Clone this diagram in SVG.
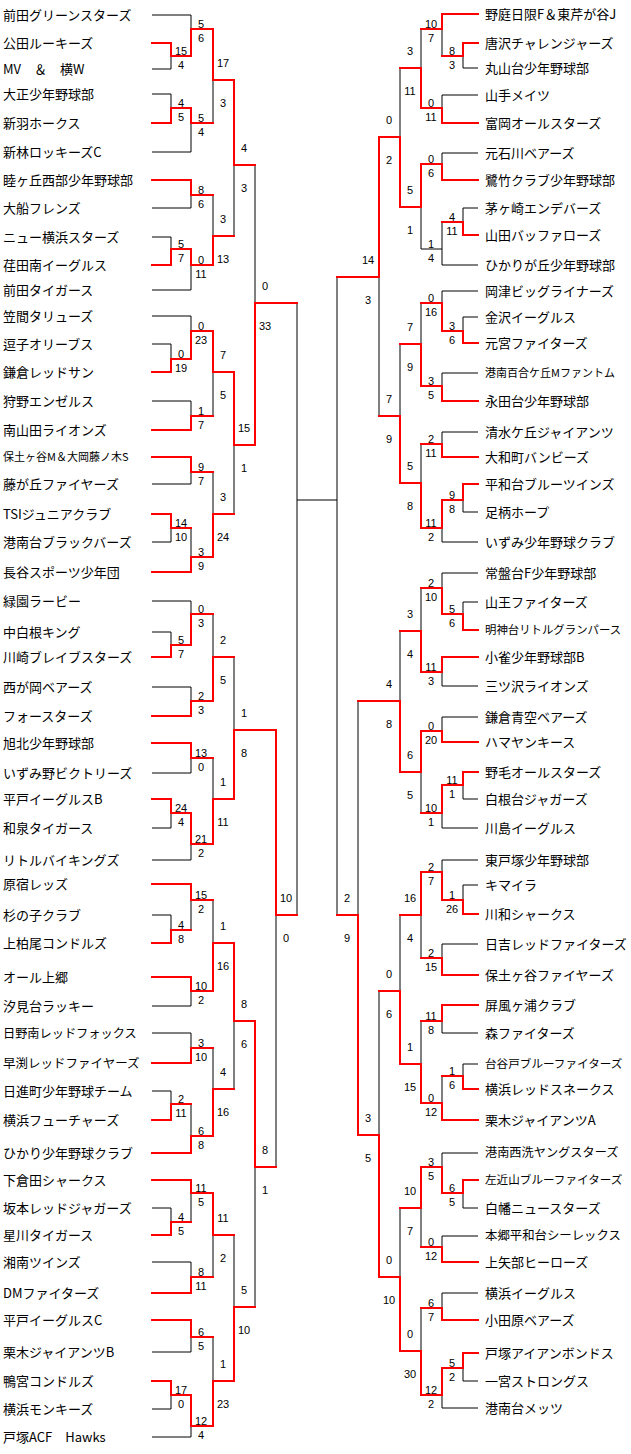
<svg xmlns="http://www.w3.org/2000/svg" width="631" height="1454" viewBox="0 0 631 1454">
<style>
.t{font-family:"Noto Sans CJK JP","Liberation Sans",sans-serif;font-size:13px;fill:#000}
.s text{font-family:"Liberation Sans",sans-serif;font-size:11px;text-anchor:middle;fill:#000}
.k{fill:none;stroke:#000;stroke-width:1}
.r{fill:none;stroke:#f00;stroke-width:2;stroke-linecap:square}
</style>
<rect width="631" height="1454" fill="#fff"/>
<g id="connectors">
<path class="k" d="M152 69H171M171 69V56M152 15H191M191 15V29M152 94H171M171 94V108M152 152H191M191 152V123M213 123V80M152 208H191M191 208V195M152 237H171M171 237V249M152 290H191M191 290V265M213 195V236M234 236V165M152 344H171M171 344V359M152 316H191M191 316V331M152 401H191M191 401V416M213 416V372M152 484H191M191 484V472M152 542H171M171 542V528M191 528V557M213 472V514M234 514V445M255 165V303M152 632H171M171 632V645M152 601H191M191 601V614M152 687H191M191 687V701M213 614V657M152 773H191M191 773V758M152 828H171M171 828V813M152 860H191M191 860V844M213 758V799M234 657V730M152 915H171M171 915V930M191 930V900M152 1006H191M191 1006V991M213 900V943M152 1033H191M191 1033V1048M152 1091H171M171 1091V1104M191 1104V1136M213 1048V1089M234 1089V1021M152 1208H171M171 1208V1222M191 1222V1193M152 1262H191M191 1262V1277M213 1277V1235M152 1352H191M191 1352V1337M152 1409H171M171 1409V1395M152 1437H191M191 1437V1426M213 1337V1381M234 1235V1307M255 1307V1167M276 1167V915M297 303V915M297 500H337"/>
<path class="k" d="M478 68H463M463 68V56M442 56V29M478 95H442M442 95V108M421 29V68M478 153H442M442 153V164M478 208H463M463 208V222M442 222V249M478 265H442M442 265V249M442 249H421M421 249V207M400 68V137M478 317H463M463 317V331M478 291H442M442 291V303M478 373H442M442 373V386M421 303V344M478 432H442M442 432V444M478 512H463M463 512V500M478 542H442M442 542V528M421 444V483M400 344V416M379 416V277M478 602H463M463 602V614M478 573H442M442 573V588M478 686H442M442 686V672M421 588V631M478 717H442M442 717V731M478 799H463M463 799V785M478 828H442M442 828V813M421 813V772M400 631V701M478 885H463M463 885V900M478 860H442M442 860V872M478 944H442M442 944V958M421 958V915M478 1033H442M442 1033V1021M478 1064H463M463 1064V1076M442 1076V1103M421 1021V1064M400 915V991M478 1208H463M463 1208V1193M478 1153H442M442 1153V1167M478 1236H442M442 1236V1247M421 1247V1208M478 1293H442M442 1293V1308M478 1381H463M463 1381V1368M478 1408H442M442 1408V1395M421 1308V1351M400 1208V1277M379 991V1135M358 701V915M337 277V915"/>
<path class="r" d="M152 43H171M171 43V56M171 56H191M191 56V29M152 123H171M171 123V108M171 108H191M191 108V123M191 29H213M213 29V80M191 123H213M152 180H191M191 180V195M152 265H171M171 265V249M171 249H191M191 249V265M191 195H213M191 265H213M213 265V236M213 80H234M234 80V165M213 236H234M152 372H171M171 372V359M171 359H191M191 359V331M152 430H191M191 430V416M191 331H213M213 331V372M191 416H213M152 457H191M191 457V472M152 514H171M171 514V528M171 528H191M152 572H191M191 572V557M191 472H213M191 557H213M213 557V514M213 372H234M234 372V445M213 514H234M234 165H255M234 445H255M255 445V303M152 657H171M171 657V645M171 645H191M191 645V614M152 716H191M191 716V701M191 614H213M191 701H213M213 701V657M152 743H191M191 743V758M152 799H171M171 799V813M171 813H191M191 813V844M191 758H213M191 844H213M213 844V799M213 657H234M213 799H234M234 799V730M152 943H171M171 943V930M152 884H191M191 884V900M171 930H191M152 977H191M191 977V991M191 900H213M191 991H213M213 991V943M152 1063H191M191 1063V1048M152 1120H171M171 1120V1104M171 1104H191M152 1153H191M191 1153V1136M191 1048H213M191 1136H213M213 1136V1089M213 943H234M234 943V1021M213 1089H234M152 1235H171M171 1235V1222M152 1180H191M191 1180V1193M171 1222H191M152 1293H191M191 1293V1277M191 1193H213M213 1193V1235M191 1277H213M152 1320H191M191 1320V1337M152 1381H171M171 1381V1395M171 1395H191M191 1395V1426M191 1337H213M191 1426H213M213 1426V1381M213 1235H234M213 1381H234M234 1381V1307M234 1021H255M255 1021V1167M234 1307H255M234 730H276M276 730V915M255 1167H276M255 303H297M276 915H297"/>
<path class="r" d="M478 43H463M463 43V56M478 14H442M442 14V29M463 56H442M478 123H442M442 123V108M442 29H421M442 108H421M421 108V68M478 180H442M442 180V164M478 235H463M463 235V222M463 222H442M442 164H421M421 164V207M421 68H400M421 207H400M400 207V137M478 343H463M463 343V331M463 331H442M442 331V303M478 401H442M442 401V386M442 303H421M442 386H421M421 386V344M478 457H442M442 457V444M478 484H463M463 484V500M463 500H442M442 500V528M442 444H421M442 528H421M421 528V483M421 344H400M421 483H400M400 483V416M400 137H379M379 137V277M400 416H379M478 630H463M463 630V614M463 614H442M442 614V588M478 657H442M442 657V672M442 588H421M442 672H421M421 672V631M478 742H442M442 742V731M478 772H463M463 772V785M463 785H442M442 785V813M442 731H421M421 731V772M442 813H421M421 631H400M421 772H400M400 772V701M478 914H463M463 914V900M463 900H442M442 900V872M478 975H442M442 975V958M442 872H421M421 872V915M442 958H421M478 1005H442M442 1005V1021M478 1089H463M463 1089V1076M463 1076H442M478 1120H442M442 1120V1103M442 1021H421M442 1103H421M421 1103V1064M421 915H400M421 1064H400M400 1064V991M478 1180H463M463 1180V1193M463 1193H442M442 1193V1167M478 1262H442M442 1262V1247M442 1167H421M421 1167V1208M442 1247H421M478 1320H442M442 1320V1308M478 1353H463M463 1353V1368M463 1368H442M442 1368V1395M442 1308H421M442 1395H421M421 1395V1351M421 1208H400M421 1351H400M400 1351V1277M400 991H379M400 1277H379M379 1277V1135M400 701H358M379 1135H358M358 1135V915M379 277H337M358 915H337"/>
</g>
<g id="teams-left" class="t">
<g id="L01"><text class="t" x="3" y="20">前田グリーンスターズ</text></g>
<g id="L02"><text class="t" x="3" y="48">公田ルーキーズ</text></g>
<g id="L03"><text class="t" x="3" y="74">MV　＆　横W</text></g>
<g id="L04"><text class="t" x="3" y="99">大正少年野球部</text></g>
<g id="L05"><text class="t" x="3" y="128">新羽ホークス</text></g>
<g id="L06"><text class="t" x="3" y="157">新林ロッキーズC</text></g>
<g id="L07"><text class="t" x="3" y="185">睦ヶ丘西部少年野球部</text></g>
<g id="L08"><text class="t" x="3" y="213">大船フレンズ</text></g>
<g id="L09"><text class="t" x="3" y="242">ニュー横浜スターズ</text></g>
<g id="L10"><text class="t" x="3" y="270">荏田南イーグルス</text></g>
<g id="L11"><text class="t" x="3" y="295">前田タイガース</text></g>
<g id="L12"><text class="t" x="3" y="321">笠間タリューズ</text></g>
<g id="L13"><text class="t" x="3" y="349">逗子オリーブス</text></g>
<g id="L14"><text class="t" x="3" y="377">鎌倉レッドサン</text></g>
<g id="L15"><text class="t" x="3" y="406">狩野エンゼルス</text></g>
<g id="L16"><text class="t" x="3" y="435">南山田ライオンズ</text></g>
<g id="L17"><text class="t" x="3" y="461" style="font-size:11px">保土ヶ谷M＆大岡藤ノ木S</text></g>
<g id="L18"><text class="t" x="3" y="489">藤が丘ファイヤーズ</text></g>
<g id="L19"><text class="t" x="3" y="519">TSIジュニアクラブ</text></g>
<g id="L20"><text class="t" x="3" y="547">港南台ブラックバーズ</text></g>
<g id="L21"><text class="t" x="3" y="577">長谷スポーツ少年団</text></g>
<g id="L22"><text class="t" x="3" y="606">緑園ラービー</text></g>
<g id="L23"><text class="t" x="3" y="637">中白根キング</text></g>
<g id="L24"><text class="t" x="3" y="662">川崎ブレイブスターズ</text></g>
<g id="L25"><text class="t" x="3" y="692">西が岡ベアーズ</text></g>
<g id="L26"><text class="t" x="3" y="721">フォースターズ</text></g>
<g id="L27"><text class="t" x="3" y="748">旭北少年野球部</text></g>
<g id="L28"><text class="t" x="3" y="778">いずみ野ビクトリーズ</text></g>
<g id="L29"><text class="t" x="3" y="804">平戸イーグルスB</text></g>
<g id="L30"><text class="t" x="3" y="833">和泉タイガース</text></g>
<g id="L31"><text class="t" x="3" y="865">リトルバイキングズ</text></g>
<g id="L32"><text class="t" x="3" y="889">原宿レッズ</text></g>
<g id="L33"><text class="t" x="3" y="920">杉の子クラブ</text></g>
<g id="L34"><text class="t" x="3" y="948">上柏尾コンドルズ</text></g>
<g id="L35"><text class="t" x="3" y="982">オール上郷</text></g>
<g id="L36"><text class="t" x="3" y="1011">汐見台ラッキー</text></g>
<g id="L37"><text class="t" x="3" y="1038" style="font-size:12.2px">日野南レッドフォックス</text></g>
<g id="L38"><text class="t" x="3" y="1068" style="font-size:12.5px">早渕レッドファイヤーズ</text></g>
<g id="L39"><text class="t" x="3" y="1096">日進町少年野球チーム</text></g>
<g id="L40"><text class="t" x="3" y="1125">横浜フューチャーズ</text></g>
<g id="L41"><text class="t" x="3" y="1158">ひかり少年野球クラブ</text></g>
<g id="L42"><text class="t" x="3" y="1185">下倉田シャークス</text></g>
<g id="L43"><text class="t" x="3" y="1213">坂本レッドジャガーズ</text></g>
<g id="L44"><text class="t" x="3" y="1240">星川タイガース</text></g>
<g id="L45"><text class="t" x="3" y="1267">湘南ツインズ</text></g>
<g id="L46"><text class="t" x="3" y="1298">DMファイターズ</text></g>
<g id="L47"><text class="t" x="3" y="1325">平戸イーグルスC</text></g>
<g id="L48"><text class="t" x="3" y="1357">栗木ジャイアンツB</text></g>
<g id="L49"><text class="t" x="3" y="1386">鴨宮コンドルズ</text></g>
<g id="L50"><text class="t" x="3" y="1414">横浜モンキーズ</text></g>
<g id="L51"><text class="t" x="3" y="1442">戸塚ACF　Hawks</text></g>
</g>
<g id="teams-right" class="t">
<g id="R01"><text class="t" x="485" y="19">野庭日限F＆東芹が谷J</text></g>
<g id="R02"><text class="t" x="485" y="48">唐沢チャレンジャーズ</text></g>
<g id="R03"><text class="t" x="485" y="73">丸山台少年野球部</text></g>
<g id="R04"><text class="t" x="485" y="100">山手メイツ</text></g>
<g id="R05"><text class="t" x="485" y="128">富岡オールスターズ</text></g>
<g id="R06"><text class="t" x="485" y="158">元石川ベアーズ</text></g>
<g id="R07"><text class="t" x="485" y="185">鷺竹クラブ少年野球部</text></g>
<g id="R08"><text class="t" x="485" y="213">茅ヶ崎エンデバーズ</text></g>
<g id="R09"><text class="t" x="485" y="240">山田バッファローズ</text></g>
<g id="R10"><text class="t" x="485" y="270">ひかりが丘少年野球部</text></g>
<g id="R11"><text class="t" x="485" y="296">岡津ビッグライナーズ</text></g>
<g id="R12"><text class="t" x="485" y="322">金沢イーグルス</text></g>
<g id="R13"><text class="t" x="485" y="348">元宮ファイターズ</text></g>
<g id="R14"><text class="t" x="485" y="377" style="font-size:11px">港南百合ケ丘Mファントム</text></g>
<g id="R15"><text class="t" x="485" y="406">永田台少年野球部</text></g>
<g id="R16"><text class="t" x="485" y="437">清水ケ丘ジャイアンツ</text></g>
<g id="R17"><text class="t" x="485" y="462">大和町バンビーズ</text></g>
<g id="R18"><text class="t" x="485" y="489">平和台ブルーツインズ</text></g>
<g id="R19"><text class="t" x="485" y="517">足柄ホープ</text></g>
<g id="R20"><text class="t" x="485" y="547">いずみ少年野球クラブ</text></g>
<g id="R21"><text class="t" x="485" y="578">常盤台F少年野球部</text></g>
<g id="R22"><text class="t" x="485" y="607">山王ファイターズ</text></g>
<g id="R23"><text class="t" x="485" y="634" style="font-size:11.4px">明神台リトルグランパース</text></g>
<g id="R24"><text class="t" x="485" y="662">小雀少年野球部B</text></g>
<g id="R25"><text class="t" x="485" y="691">三ツ沢ライオンズ</text></g>
<g id="R26"><text class="t" x="485" y="722">鎌倉青空ベアーズ</text></g>
<g id="R27"><text class="t" x="485" y="747">ハマヤンキース</text></g>
<g id="R28"><text class="t" x="485" y="777">野毛オールスターズ</text></g>
<g id="R29"><text class="t" x="485" y="804">白根台ジャガーズ</text></g>
<g id="R30"><text class="t" x="485" y="833">川島イーグルス</text></g>
<g id="R31"><text class="t" x="485" y="865">東戸塚少年野球部</text></g>
<g id="R32"><text class="t" x="485" y="890">キマイラ</text></g>
<g id="R33"><text class="t" x="485" y="919">川和シャークス</text></g>
<g id="R34"><text class="t" x="485" y="949">日吉レッドファイターズ</text></g>
<g id="R35"><text class="t" x="485" y="980">保土ヶ谷ファイヤーズ</text></g>
<g id="R36"><text class="t" x="485" y="1010">屏風ヶ浦クラブ</text></g>
<g id="R37"><text class="t" x="485" y="1038">森ファイターズ</text></g>
<g id="R38"><text class="t" x="485" y="1068" style="font-size:11.6px">台谷戸ブルーファイターズ</text></g>
<g id="R39"><text class="t" x="485" y="1094">横浜レッドスネークス</text></g>
<g id="R40"><text class="t" x="485" y="1125">栗木ジャイアンツA</text></g>
<g id="R41"><text class="t" x="485" y="1157" style="font-size:12.2px">港南西洗ヤングスターズ</text></g>
<g id="R42"><text class="t" x="485" y="1184" style="font-size:11.6px">左近山ブルーファイターズ</text></g>
<g id="R43"><text class="t" x="485" y="1213">白幡ニュースターズ</text></g>
<g id="R44"><text class="t" x="485" y="1240" style="font-size:12.4px">本郷平和台シーレックス</text></g>
<g id="R45"><text class="t" x="485" y="1267">上矢部ヒーローズ</text></g>
<g id="R46"><text class="t" x="485" y="1298">横浜イーグルス</text></g>
<g id="R47"><text class="t" x="485" y="1325">小田原ベアーズ</text></g>
<g id="R48"><text class="t" x="485" y="1358">戸塚アイアンボンドス</text></g>
<g id="R49"><text class="t" x="485" y="1386">一宮ストロングス</text></g>
<g id="R50"><text class="t" x="485" y="1413">港南台メッツ</text></g>
</g>
<g id="scores" class="s">
<g id="m1"><text x="181" y="55">15</text><text x="181" y="69">4</text></g>
<g id="m2"><text x="201" y="28">5</text><text x="201" y="42">6</text></g>
<g id="m3"><text x="181" y="107">4</text><text x="181" y="121">5</text></g>
<g id="m4"><text x="201" y="122">5</text><text x="201" y="136">4</text></g>
<g id="m5"><text x="223" y="67">17</text><text x="223" y="107">3</text></g>
<g id="m6"><text x="201" y="194">8</text><text x="201" y="208">6</text></g>
<g id="m7"><text x="181" y="248">5</text><text x="181" y="262">7</text></g>
<g id="m8"><text x="201" y="264">0</text><text x="201" y="278">11</text></g>
<g id="m9"><text x="223" y="223">3</text><text x="223" y="263">13</text></g>
<g id="m10"><text x="244" y="152">4</text><text x="244" y="192">3</text></g>
<g id="n1"><text x="181" y="358">0</text><text x="181" y="372">19</text></g>
<g id="n2"><text x="201" y="330">0</text><text x="201" y="344">23</text></g>
<g id="n3"><text x="201" y="415">1</text><text x="201" y="429">7</text></g>
<g id="n4"><text x="223" y="359">7</text><text x="223" y="399">5</text></g>
<g id="n5"><text x="201" y="471">9</text><text x="201" y="485">7</text></g>
<g id="n6"><text x="181" y="527">14</text><text x="181" y="541">10</text></g>
<g id="n7"><text x="201" y="556">3</text><text x="201" y="570">9</text></g>
<g id="n8"><text x="223" y="501">3</text><text x="223" y="541">24</text></g>
<g id="n9"><text x="244" y="432">15</text><text x="244" y="472">1</text></g>
<g id="m11"><text x="265" y="290">0</text><text x="265" y="330">33</text></g>
<g id="p1"><text x="181" y="644">5</text><text x="181" y="658">7</text></g>
<g id="p2"><text x="201" y="613">0</text><text x="201" y="627">3</text></g>
<g id="p3"><text x="201" y="700">2</text><text x="201" y="714">3</text></g>
<g id="p4"><text x="223" y="644">2</text><text x="223" y="684">5</text></g>
<g id="p5"><text x="201" y="757">13</text><text x="201" y="771">0</text></g>
<g id="p6"><text x="181" y="812">24</text><text x="181" y="826">4</text></g>
<g id="p7"><text x="201" y="843">21</text><text x="201" y="857">2</text></g>
<g id="p8"><text x="223" y="786">1</text><text x="223" y="826">11</text></g>
<g id="p9"><text x="244" y="717">1</text><text x="244" y="757">8</text></g>
<g id="q1"><text x="181" y="929">4</text><text x="181" y="943">8</text></g>
<g id="q2"><text x="201" y="899">15</text><text x="201" y="913">2</text></g>
<g id="q3"><text x="201" y="990">10</text><text x="201" y="1004">2</text></g>
<g id="q4"><text x="223" y="930">1</text><text x="223" y="970">16</text></g>
<g id="q5"><text x="201" y="1047">3</text><text x="201" y="1061">10</text></g>
<g id="q6"><text x="181" y="1103">2</text><text x="181" y="1117">11</text></g>
<g id="q7"><text x="201" y="1135">6</text><text x="201" y="1149">8</text></g>
<g id="q8"><text x="223" y="1076">4</text><text x="223" y="1116">16</text></g>
<g id="q9"><text x="244" y="1008">8</text><text x="244" y="1048">6</text></g>
<g id="s1"><text x="181" y="1221">4</text><text x="181" y="1235">5</text></g>
<g id="s2"><text x="201" y="1192">11</text><text x="201" y="1206">5</text></g>
<g id="s3"><text x="201" y="1276">8</text><text x="201" y="1290">11</text></g>
<g id="s4"><text x="223" y="1222">11</text><text x="223" y="1262">2</text></g>
<g id="s5"><text x="201" y="1336">6</text><text x="201" y="1350">5</text></g>
<g id="s6"><text x="181" y="1394">17</text><text x="181" y="1408">0</text></g>
<g id="s7"><text x="201" y="1425">12</text><text x="201" y="1439">4</text></g>
<g id="s8"><text x="223" y="1368">1</text><text x="223" y="1408">23</text></g>
<g id="s9"><text x="244" y="1294">5</text><text x="244" y="1334">10</text></g>
<g id="q10"><text x="265" y="1154">8</text><text x="265" y="1194">1</text></g>
<g id="q11"><text x="286" y="902">10</text><text x="286" y="942">0</text></g>
<g id="r1"><text x="452" y="55">8</text><text x="452" y="69">3</text></g>
<g id="r2"><text x="431" y="28">10</text><text x="431" y="42">7</text></g>
<g id="r3"><text x="431" y="107">0</text><text x="431" y="121">11</text></g>
<g id="r4"><text x="410" y="55">3</text><text x="410" y="95">11</text></g>
<g id="r5"><text x="431" y="163">0</text><text x="431" y="177">6</text></g>
<g id="r6"><text x="452" y="221">4</text><text x="452" y="235">11</text></g>
<g id="r7"><text x="431" y="248">1</text><text x="431" y="262">4</text></g>
<g id="r8"><text x="410" y="194">5</text><text x="410" y="234">1</text></g>
<g id="r9"><text x="389" y="124">0</text><text x="389" y="164">2</text></g>
<g id="r10"><text x="452" y="330">3</text><text x="452" y="344">6</text></g>
<g id="r11"><text x="431" y="302">0</text><text x="431" y="316">16</text></g>
<g id="r12"><text x="431" y="385">3</text><text x="431" y="399">5</text></g>
<g id="r13"><text x="410" y="331">7</text><text x="410" y="371">9</text></g>
<g id="r14"><text x="431" y="443">2</text><text x="431" y="457">11</text></g>
<g id="r15"><text x="452" y="499">9</text><text x="452" y="513">8</text></g>
<g id="r16"><text x="431" y="527">11</text><text x="431" y="541">2</text></g>
<g id="r17"><text x="410" y="470">5</text><text x="410" y="510">8</text></g>
<g id="r18"><text x="389" y="403">7</text><text x="389" y="443">9</text></g>
<g id="rt"><text x="368" y="264">14</text><text x="368" y="304">3</text></g>
<g id="t1"><text x="452" y="613">5</text><text x="452" y="627">6</text></g>
<g id="t2"><text x="431" y="587">2</text><text x="431" y="601">10</text></g>
<g id="t3"><text x="431" y="671">11</text><text x="431" y="685">3</text></g>
<g id="t4"><text x="410" y="618">3</text><text x="410" y="658">4</text></g>
<g id="t5"><text x="431" y="730">0</text><text x="431" y="744">20</text></g>
<g id="t6"><text x="452" y="784">11</text><text x="452" y="798">1</text></g>
<g id="t7"><text x="431" y="812">10</text><text x="431" y="826">1</text></g>
<g id="t8"><text x="410" y="759">6</text><text x="410" y="799">5</text></g>
<g id="t9"><text x="389" y="688">4</text><text x="389" y="728">8</text></g>
<g id="u1"><text x="452" y="899">1</text><text x="452" y="913">26</text></g>
<g id="u2"><text x="431" y="871">2</text><text x="431" y="885">7</text></g>
<g id="u3"><text x="431" y="957">2</text><text x="431" y="971">15</text></g>
<g id="u4"><text x="410" y="902">16</text><text x="410" y="942">4</text></g>
<g id="u5"><text x="431" y="1020">11</text><text x="431" y="1034">8</text></g>
<g id="u6"><text x="452" y="1075">1</text><text x="452" y="1089">6</text></g>
<g id="u7"><text x="431" y="1102">0</text><text x="431" y="1116">12</text></g>
<g id="u8"><text x="410" y="1051">1</text><text x="410" y="1091">15</text></g>
<g id="u9"><text x="389" y="978">0</text><text x="389" y="1018">6</text></g>
<g id="w1"><text x="452" y="1192">6</text><text x="452" y="1206">5</text></g>
<g id="w2"><text x="431" y="1166">3</text><text x="431" y="1180">5</text></g>
<g id="w3"><text x="431" y="1246">0</text><text x="431" y="1260">12</text></g>
<g id="w4"><text x="410" y="1195">10</text><text x="410" y="1235">7</text></g>
<g id="w5"><text x="431" y="1307">6</text><text x="431" y="1321">7</text></g>
<g id="w6"><text x="452" y="1367">5</text><text x="452" y="1381">2</text></g>
<g id="w7"><text x="431" y="1394">12</text><text x="431" y="1408">2</text></g>
<g id="w8"><text x="410" y="1338">0</text><text x="410" y="1378">30</text></g>
<g id="w9"><text x="389" y="1264">0</text><text x="389" y="1304">10</text></g>
<g id="v1"><text x="368" y="1122">3</text><text x="368" y="1162">5</text></g>
<g id="v2"><text x="347" y="902">2</text><text x="347" y="942">9</text></g>
</g>
</svg>
